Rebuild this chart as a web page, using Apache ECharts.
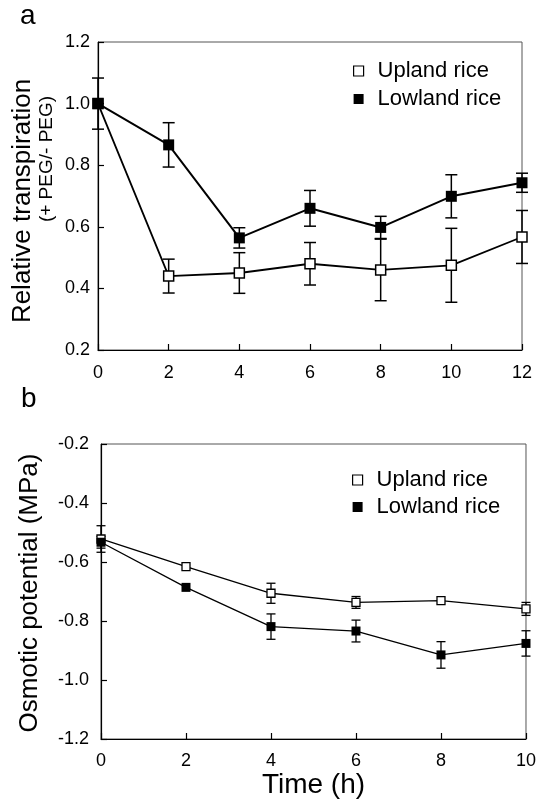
<!DOCTYPE html>
<html>
<head>
<meta charset="utf-8">
<script src="https://cdn.jsdelivr.net/npm/echarts@6/dist/echarts.min.js"></script>
<style>
  html, body { margin: 0; padding: 0; background: #fff; }
  #main { width: 539px; height: 804px; }
</style>
</head>
<body>
<div id="main"></div>
<script>
// panel a - relative transpiration
var hoursA = [0, 2, 4, 6, 8, 10, 12];
var uplandA = [1.00, 0.44, 0.45, 0.48, 0.46, 0.475, 0.567];
var uplandAErr = [0.083, 0.055, 0.066, 0.069, 0.10, 0.12, 0.086];
var lowlandA = [1.00, 0.866, 0.564, 0.660, 0.598, 0.699, 0.743];
var lowlandAErr = [0, 0.072, 0.033, 0.058, 0.036, 0.07, 0.031];

// panel b - osmotic potential
var hoursB = [0, 2, 4, 6, 8, 10];
var uplandB = [-0.522, -0.616, -0.706, -0.737, -0.731, -0.759];
var uplandBErr = [0.045, 0, 0.034, 0.02, 0, 0.022];
var lowlandB = [-0.533, -0.686, -0.819, -0.834, -0.915, -0.876];
var lowlandBErr = [0.02, 0, 0.043, 0.037, 0.045, 0.043];

var FONT = 'Liberation Sans, Arial, sans-serif';

function pairs(xs, ys) {
    var out = [];
    for (var i = 0; i < xs.length; i++) out.push([xs[i], ys[i]]);
    return out;
}
function errData(xs, ys, es) {
    var out = [];
    for (var i = 0; i < xs.length; i++) out.push([xs[i], ys[i] - es[i], ys[i] + es[i]]);
    return out;
}
// vertical error bar with caps
function errorBar(capW, lw) {
    return function (params, api) {
        var x = api.value(0), lo = api.value(1), hi = api.value(2);
        if (hi - lo < 1e-6) return null;
        var top = api.coord([x, hi]);
        var bot = api.coord([x, lo]);
        var st = { stroke: '#000', lineWidth: lw };
        return {
            type: 'group',
            children: [
                { type: 'line', shape: { x1: top[0], y1: top[1], x2: bot[0], y2: bot[1] }, style: st },
                { type: 'line', shape: { x1: top[0] - capW / 2, y1: top[1], x2: top[0] + capW / 2, y2: top[1] }, style: st },
                { type: 'line', shape: { x1: bot[0] - capW / 2, y1: bot[1], x2: bot[0] + capW / 2, y2: bot[1] }, style: st }
            ]
        };
    };
}

function oneDec(v) { return v.toFixed(1); }

// builds a value axis in the plain boxed style of the figure
function makeAxis(grid, min, max, margin, fmt) {
    return {
        type: 'value',
        gridIndex: grid,
        min: min,
        max: max,
        interval: 2 * (max - min > 5 ? 1 : 0.1),
        axisLine: { show: true, lineStyle: { color: '#000', width: 1.2 } },
        axisTick: { show: true, inside: true, length: 6, lineStyle: { color: '#000', width: 1.2 } },
        splitLine: { show: false },
        axisLabel: { show: true, color: '#000', fontSize: 18, fontFamily: FONT, margin: margin, formatter: fmt }
    };
}

var xA = makeAxis(0, 0, 12, 14);
var xB = makeAxis(1, 0, 10, 13);
xB.name = 'Time (h)';
xB.nameLocation = 'middle';
xB.nameGap = 32;
xB.nameTextStyle = { color: '#000', fontSize: 28, fontFamily: FONT };
var yA = makeAxis(0, 0.2, 1.2, 8, oneDec);
var yB = makeAxis(1, -1.2, -0.2, 12, oneDec);

var legendText = { color: '#000', fontSize: 22, fontFamily: FONT, lineHeight: 22, padding: [0, 0, 0, 9] };

var chart = echarts.init(document.getElementById('main'));
chart.setOption({
    animation: false,
    backgroundColor: '#fff',
    textStyle: { fontFamily: FONT },
    grid: [
        { left: 98, right: 17, top: 42, height: 308, show: true, borderColor: '#555', borderWidth: 1 },
        { left: 101, right: 12, top: 444, height: 295, show: true, borderColor: '#555', borderWidth: 1 }
    ],
    xAxis: [xA, xB],
    yAxis: [yA, yB],
    legend: [
        {
            orient: 'vertical', left: 348, top: 55, itemWidth: 10, itemHeight: 10, itemGap: 6,
            icon: 'rect', textStyle: legendText,
            data: [
                { name: 'Upland rice', itemStyle: { color: '#fff', borderColor: '#000', borderWidth: 1.2 } },
                { name: 'Lowland rice', itemStyle: { color: '#000', borderWidth: 0 } }
            ]
        },
        {
            orient: 'vertical', left: 347, top: 464, itemWidth: 10, itemHeight: 10, itemGap: 5,
            icon: 'rect', textStyle: legendText,
            data: [
                { name: 'Upland rice ', itemStyle: { color: '#fff', borderColor: '#000', borderWidth: 1.2 } },
                { name: 'Lowland rice ', itemStyle: { color: '#000', borderWidth: 0 } }
            ]
        }
    ],
    graphic: [
        { type: 'text', x: 20, y: 16, style: { text: 'a', fontSize: 28, fontFamily: FONT, fill: '#000', verticalAlign: 'middle' } },
        { type: 'text', x: 21, y: 399, style: { text: 'b', fontSize: 28, fontFamily: FONT, fill: '#000', verticalAlign: 'middle' } },
        { type: 'text', x: 23, y: 201, rotation: Math.PI / 2,
          style: { text: 'Relative transpiration', fontSize: 26, fontFamily: FONT, fill: '#000', align: 'center', verticalAlign: 'middle' } },
        { type: 'text', x: 47, y: 159, rotation: Math.PI / 2,
          style: { text: '(+ PEG/- PEG)', fontSize: 19, fontFamily: FONT, fill: '#000', align: 'center', verticalAlign: 'middle' } },
        { type: 'text', x: 30, y: 593, rotation: Math.PI / 2,
          style: { text: 'Osmotic potential (MPa)', fontSize: 26, fontFamily: FONT, fill: '#000', align: 'center', verticalAlign: 'middle' } }
    ],
    series: [
        // panel a
        { type: 'custom', xAxisIndex: 0, yAxisIndex: 0, z: 1, renderItem: errorBar(12, 1.5),
          encode: { x: 0, y: [1, 2] }, data: errData(hoursA, uplandA, uplandAErr) },
        { type: 'custom', xAxisIndex: 0, yAxisIndex: 0, z: 1, renderItem: errorBar(12, 1.5),
          encode: { x: 0, y: [1, 2] }, data: errData(hoursA, lowlandA, lowlandAErr) },
        { name: 'Upland rice', type: 'line', xAxisIndex: 0, yAxisIndex: 0, z: 3,
          symbol: 'rect', symbolSize: 10, showAllSymbol: true,
          lineStyle: { color: '#000', width: 1.8 },
          itemStyle: { color: '#fff', borderColor: '#000', borderWidth: 1.5 },
          data: pairs(hoursA, uplandA) },
        { name: 'Lowland rice', type: 'line', xAxisIndex: 0, yAxisIndex: 0, z: 4,
          symbol: 'rect', symbolSize: 11, showAllSymbol: true,
          lineStyle: { color: '#000', width: 2 },
          itemStyle: { color: '#000', borderColor: '#000', borderWidth: 0 },
          data: pairs(hoursA, lowlandA) },
        // panel b
        { type: 'custom', xAxisIndex: 1, yAxisIndex: 1, z: 1, renderItem: errorBar(9, 1.3),
          encode: { x: 0, y: [1, 2] }, data: errData(hoursB, uplandB, uplandBErr) },
        { type: 'custom', xAxisIndex: 1, yAxisIndex: 1, z: 1, renderItem: errorBar(9, 1.3),
          encode: { x: 0, y: [1, 2] }, data: errData(hoursB, lowlandB, lowlandBErr) },
        { name: 'Upland rice ', type: 'line', xAxisIndex: 1, yAxisIndex: 1, z: 3,
          symbol: 'rect', symbolSize: 8, showAllSymbol: true,
          lineStyle: { color: '#000', width: 1.3 },
          itemStyle: { color: '#fff', borderColor: '#000', borderWidth: 1.3 },
          data: pairs(hoursB, uplandB) },
        { name: 'Lowland rice ', type: 'line', xAxisIndex: 1, yAxisIndex: 1, z: 4,
          symbol: 'rect', symbolSize: 9, showAllSymbol: true,
          lineStyle: { color: '#000', width: 1.3 },
          itemStyle: { color: '#000', borderColor: '#000', borderWidth: 0 },
          data: pairs(hoursB, lowlandB) }
    ]
});
</script>
</body>
</html>
